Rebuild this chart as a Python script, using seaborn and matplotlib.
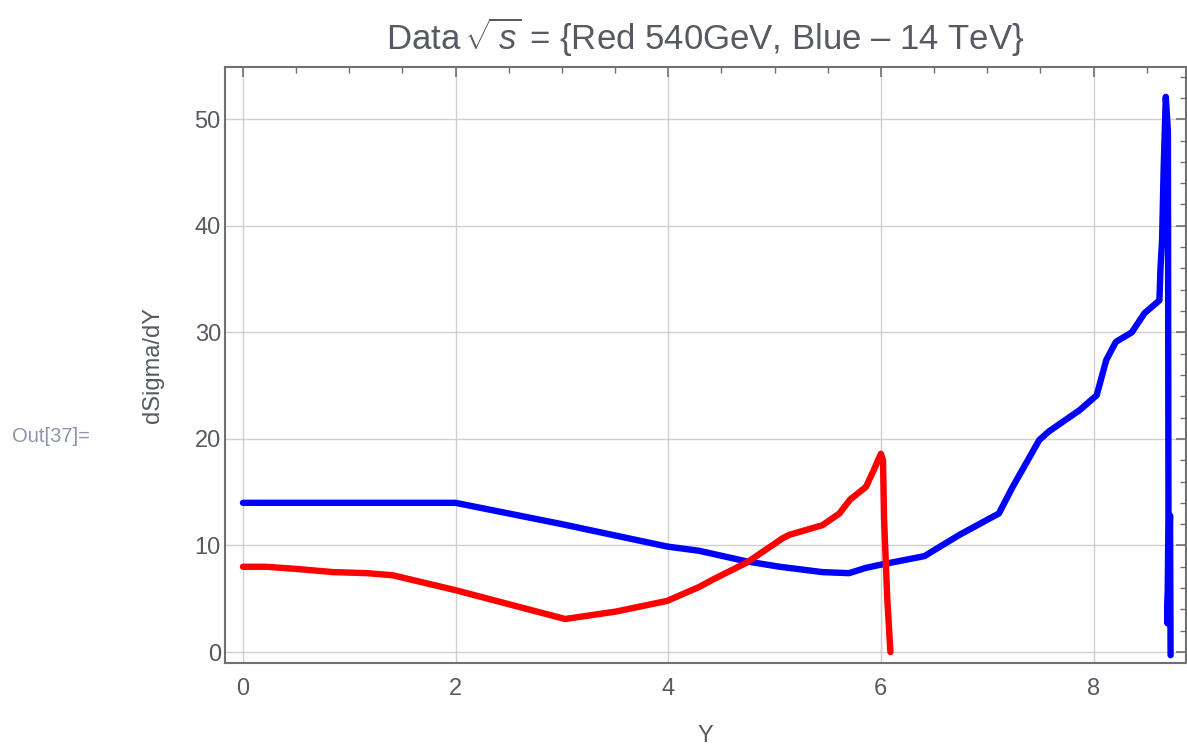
import matplotlib
matplotlib.use("Agg")
import matplotlib.pyplot as plt
from matplotlib.ticker import MultipleLocator
import seaborn as sns
import pandas as pd

# ---- data ----
red_x = [0.0, 0.22, 0.5, 0.85, 1.17, 1.41, 2.0, 3.03, 3.51, 3.99, 4.29, 4.42,
         4.74, 5.08, 5.14, 5.45, 5.61, 5.71, 5.86, 5.93, 6.0, 6.02, 6.03, 6.06, 6.09]
red_y = [8.0, 8.0, 7.8, 7.5, 7.4, 7.2, 5.8, 3.1, 3.8, 4.8, 6.1, 6.8,
         8.4, 10.7, 11.0, 11.9, 13.0, 14.3, 15.5, 17.0, 18.6, 18.0, 12.5, 5.0, 0.0]

blue_x = [0.0, 2.0, 3.0, 3.99, 4.29, 4.74, 5.05, 5.45, 5.70, 5.86, 6.0, 6.41,
          6.74, 7.11, 7.24, 7.49, 7.58, 7.87, 8.03, 8.12, 8.21, 8.36, 8.48, 8.62,
          8.63, 8.645, 8.66, 8.68, 8.70, 8.705, 8.695, 8.72, 8.725]
blue_y = [14.0, 14.0, 12.0, 9.9, 9.5, 8.5, 8.0, 7.5, 7.4, 7.9, 8.2, 9.0,
          11.0, 13.0, 15.5, 19.9, 20.7, 22.7, 24.1, 27.4, 29.1, 30.0, 31.8, 33.0,
          36.0, 38.7, 45.4, 52.1, 48.8, 12.8, 2.7, 12.8, -0.3]

x_ticks = [0, 2, 4, 6, 8]
y_ticks = [0, 10, 20, 30, 40, 50]

title_text = r"Data$\,\sqrt{\,s}$ = {Red 540GeV, Blue – 14 TeV}"
x_label = "Y"
y_label = "dSigma/dY"
out_label = "Out[37]="

# ---- style ----
sns.set_theme(style="white")
plt.rcParams['font.family'] = ['Liberation Sans', 'DejaVu Sans']
plt.rcParams['mathtext.fontset'] = 'custom'
plt.rcParams['mathtext.rm'] = 'Liberation Sans'
plt.rcParams['mathtext.it'] = 'Liberation Sans:italic'

df_blue = pd.DataFrame({"x": blue_x, "y": blue_y})
df_red = pd.DataFrame({"x": red_x, "y": red_y})

fig = plt.figure(figsize=(11.87, 7.51), dpi=100)
ax = fig.add_axes([225 / 1187, 1 - 663 / 751, (1186 - 225) / 1187, (663 - 67) / 751])

sns.lineplot(data=df_blue, x="x", y="y", sort=False, estimator=None,
             color="#0000ff", linewidth=4.6, ax=ax, zorder=3)
sns.lineplot(data=df_red, x="x", y="y", sort=False, estimator=None,
             color="#ff0000", linewidth=4.6, ax=ax, zorder=4)

ax.set_xlim(-0.169, 8.87)
ax.set_ylim(-1.03, 54.9)
ax.set_xticks(x_ticks)
ax.set_yticks(y_ticks)
ax.xaxis.set_minor_locator(MultipleLocator(0.5))
ax.yaxis.set_minor_locator(MultipleLocator(2))

ax.grid(True, which="major", color="#cfcfcf", linewidth=1.0)
ax.set_axisbelow(True)

spine_col = "#707070"
for s in ax.spines.values():
    s.set_color(spine_col)
    s.set_linewidth(1.5)

lab_col = "#555a63"
ax.tick_params(which="both", direction="in", top=True, right=True,
               color=spine_col, labelcolor=lab_col)
ax.tick_params(which="major", length=7, width=1.2, labelsize=17)
ax.tick_params(axis="y", which="major", pad=3)
ax.tick_params(axis="x", which="major", pad=11)
ax.tick_params(which="minor", length=4, width=1.0)

ax.set_xlabel(x_label, fontsize=17, color=lab_col, labelpad=18)
ax.set_ylabel(y_label, fontsize=17, color=lab_col, labelpad=22)
ax.set_title(title_text, fontsize=25, color=lab_col, pad=12)

fig.text(12 / 1187, 1 - 437 / 751, out_label, fontsize=14.5, color="#8a96a8",
         ha="left", va="center")

fig.savefig("out.png", dpi=100)
